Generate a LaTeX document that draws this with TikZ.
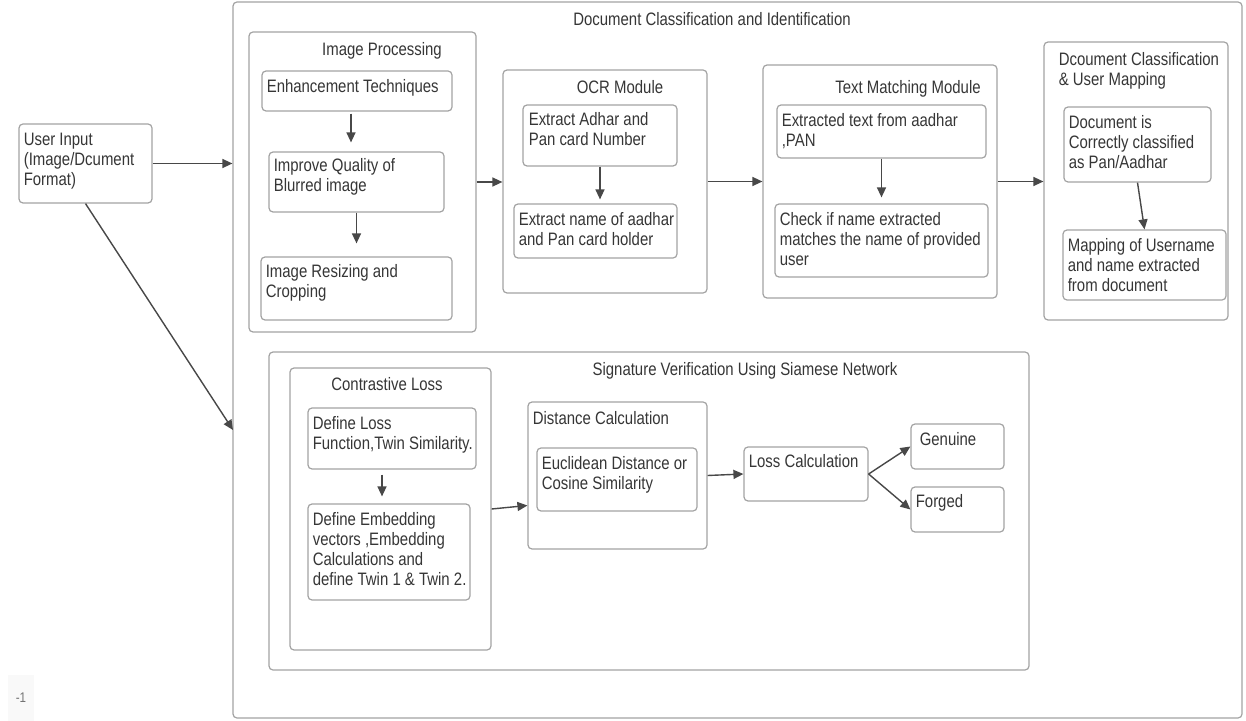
\documentclass[tikz,border=0pt]{standalone}
\usepackage{fontspec}
\setmainfont{Liberation Sans}[FakeStretch=0.83]
\usetikzlibrary{arrows.meta,fit}

\definecolor{boxline}{HTML}{A3A3A3}
\definecolor{inktext}{HTML}{363636}
\definecolor{inkarrow}{HTML}{484848}

\tikzset{
  blk/.style={draw=boxline, line width=0.6pt, rounded corners=2pt, inner sep=0pt},
  txt/.style={anchor=north west, inner sep=0pt, align=left, text=inktext,
    font=\fontsize{9pt}{10pt}\selectfont},
  ttl/.style={txt, anchor=north},
  arr/.style={draw=inkarrow, line width=0.7pt, -{Triangle[length=5pt,width=4.5pt]}},
}

% box from two corners, text at its top left
\newcommand{\blk}[5][5,9]{%
  \node[blk, fit={(#3) (#4)}] (#2) {};
  \node[txt] (#2-t) at ([shift={(#1)}]#2.north west) {#5};}

\begin{document}
\begin{tikzpicture}[x=0.5pt, y=-0.5pt]
  \fill[white] (0,0) rectangle (1246,721);
  \useasboundingbox (0,0) rectangle (1246,721);

  % outer frame
  \node[blk, fit={(233,2) (1242,718)}] (docc) {};
  \node[ttl] (docc-t) at (712,12) {Document Classification and Identification};

  \blk{user}{19,124}{152,203}{User Input\\(Image/Dcument\\Format)}

  % image processing
  \node[blk, fit={(249,32) (476,332)}] (improc) {};
  \node[ttl] (improc-t) at (382,42) {Image Processing};
  \blk{enh}{262,71}{452,111}{Enhancement Techniques}
  \blk[5,7]{impr}{269,152}{444,212}{Improve Quality of\\Blurred image}
  \blk[5,8]{resz}{261,257}{452,320}{Image Resizing and\\Cropping}

  % ocr
  \node[blk, fit={(503,70) (707,293)}] (ocr) {};
  \node[ttl] (ocr-t) at (620,80) {OCR Module};
  \blk[6,8]{adhar}{523,105}{677,166}{Extract Adhar and\\Pan card Number}
  \blk{holder}{514,204}{677,258}{Extract name of aadhar\\and Pan card holder}

  % text matching
  \node[blk, fit={(763,65) (997,298)}] (tm) {};
  \node[ttl] (tm-t) at (908,80) {Text Matching Module};
  \blk{extr}{777,105}{986,158}{Extracted text from aadhar\\,PAN}
  \blk{chk}{775,204}{988,277}{Check if name extracted\\matches the name of provided\\user}

  % classification and mapping
  \blk[15,11]{dmap}{1044,42}{1228,320}{Dcoument Classification\\\& User Mapping}
  \blk{cls}{1064,107}{1211,182}{Document is\\Correctly classified\\as Pan/Aadhar}
  \blk{umap}{1063,230}{1226,300}{Mapping of Username\\and name extracted\\from document}

  % signature verification
  \node[blk, fit={(269,352) (1029,670)}] (sig) {};
  \node[ttl] (sig-t) at (745,362) {Signature Verification Using Siamese Network};
  \node[blk, fit={(290,368) (491,650)}] (closs) {};
  \node[ttl] (closs-t) at (387,377) {Contrastive Loss};
  \blk{lossfn}{308,408}{476,469}{Define Loss\\Function,Twin Similarity.}
  \blk{embed}{308,504}{470,600}{Define Embedding\\vectors ,Embedding\\Calculations and\\define Twin 1 \& Twin 2.}
  \blk[5,10]{dist}{528,402}{707,549}{Distance Calculation}
  \blk{eucl}{537,448}{697,511}{Euclidean Distance or\\Cosine Similarity}
  \blk[5,8]{lcalc}{744,447}{868,501}{Loss Calculation}
  \blk[9,9]{gen}{911,424}{1004,469}{Genuine}
  \blk[5,8]{forg}{911,487}{1004,532}{Forged}

  \coordinate (sigin) at (233,430);
  \node[fill=gray!5, text=gray!90!black, inner sep=0pt, minimum width=13pt, minimum height=23pt,
    font=\fontsize{7pt}{8pt}\selectfont] (pg) at (21,698) {-1};

  % arrows
  \draw[arr] (user.east) -- (user.east -| docc.west);
  \draw[arr] (user.south) -- (sigin);
  \draw[arr] (improc.east) -- (improc.east -| ocr.west);
  \draw[arr] (ocr.east) -- (ocr.east -| tm.west);
  \draw[arr] (tm.east) -- (tm.east -| dmap.west);
  \draw[arr, shorten <=1pt, shorten >=4.5pt] ([xshift=-3pt]enh.south) -- ([xshift=-3pt]enh.south |- impr.north);
  \draw[arr, shorten >=6.5pt] (impr.south) -- (impr.south |- resz.north);
  \draw[arr, shorten >=2pt] (adhar.south) -- (adhar.south |- holder.north);
  \draw[arr, shorten >=3pt] (extr.south) -- (extr.south |- chk.north);
  \draw[arr] (cls.south) -- (umap.north);
  \draw[arr, shorten <=2.5pt, shorten >=3.5pt] ([xshift=-5pt]lossfn.south) -- ([xshift=-5pt]lossfn.south |- embed.north);
  \draw[arr] (closs.east) -- ([yshift=-15pt]dist.west);
  \draw[arr] (dist.east) -- (lcalc.west);
  \draw[arr] (lcalc.east) -- (gen.west);
  \draw[arr] (lcalc.east) -- (forg.west);
\end{tikzpicture}
\end{document}
